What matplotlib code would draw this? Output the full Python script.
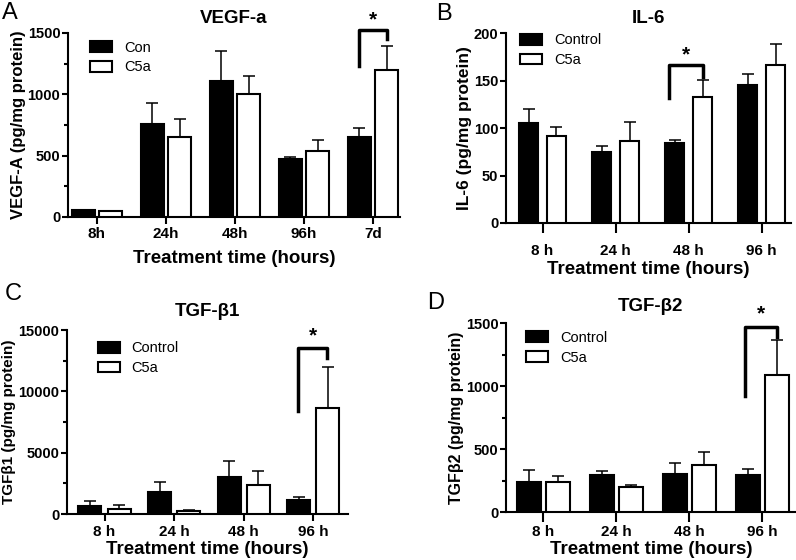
import numpy as np
import matplotlib
matplotlib.use("Agg")
import matplotlib.pyplot as plt

plt.rcParams['font.family'] = ['Liberation Sans', 'DejaVu Sans']
plt.rcParams['axes.linewidth'] = 1.5

# ---- data ----
# A: VEGF-a
vegf_times = ['8h', '24h', '48h', '96h', '7d']
vegf_con = [55, 762, 1112, 472, 655]
vegf_con_err = [5, 170, 238, 19, 73]
vegf_c5a = [45, 655, 1000, 537, 1195]
vegf_c5a_err = [2, 142, 152, 92, 198]

# B: IL-6
il6_times = ['8 h', '24 h', '48 h', '96 h']
il6_con = [105.6, 74.3, 83.8, 145]
il6_con_err = [14.4, 6.7, 3.9, 12]
il6_c5a = [91.5, 86, 132.4, 166.5]
il6_c5a_err = [9.9, 20.7, 18.3, 22.2]

# C: TGF-b1
tgfb1_times = ['8 h', '24 h', '48 h', '96 h']
tgfb1_con = [624, 1763, 3011, 1166]
tgfb1_con_err = [406, 841, 1275, 217]
tgfb1_c5a = [434, 217, 2387, 8680]
tgfb1_c5a_err = [298, 81, 1085, 3309]

# D: TGF-b2
tgfb2_times = ['8 h', '24 h', '48 h', '96 h']
tgfb2_con = [242, 295, 300, 290]
tgfb2_con_err = [88, 32, 88, 53]
tgfb2_c5a = [237, 198, 374, 1086]
tgfb2_c5a_err = [50, 18, 100, 282]


def panel(ax, times, con, con_err, c5a, c5a_err, labels, width, off, xlim,
          ylim, yticks, minor, title, ylabel, sig, leg_anchor,
          xtlen, xtpad, xlpad, tpad, ylsize):
    x = np.arange(len(times))
    ax.bar(x - off, con, width, color='black', edgecolor='black', lw=1.5,
           label=labels[0], zorder=3)
    ax.bar(x + off, c5a, width, color='white', edgecolor='black', lw=1.5,
           label=labels[1], zorder=3)
    ax.errorbar(x - off, con, yerr=[np.zeros(len(con)), con_err], fmt='none',
                ecolor='black', elinewidth=1.1, capsize=4, capthick=1.1, zorder=2)
    ax.errorbar(x + off, c5a, yerr=[np.zeros(len(c5a)), c5a_err], fmt='none',
                ecolor='black', elinewidth=1.1, capsize=4, capthick=1.1, zorder=2)
    ax.set_xlim(*xlim)
    ax.set_ylim(*ylim)
    ax.set_xticks(x)
    ax.set_xticklabels(times, fontweight='bold', fontsize=11)
    ax.set_yticks(yticks)
    ax.set_yticks(minor, minor=True)
    ax.set_yticklabels([str(t) for t in yticks], fontweight='bold', fontsize=10.5)
    ax.tick_params(axis='x', which='major', length=xtlen, width=1.5, pad=xtpad)
    ax.tick_params(axis='y', which='major', length=4, width=1.5, pad=1.5)
    ax.tick_params(axis='y', which='minor', length=3, width=1.5)
    ax.spines['top'].set_visible(False)
    ax.spines['right'].set_visible(False)
    ax.set_title(title, fontweight='bold', fontsize=13.5, pad=tpad)
    ax.set_ylabel(ylabel, fontweight='bold', fontsize=ylsize, labelpad=1.5)
    ax.set_xlabel('Treatment time (hours)', fontweight='bold', fontsize=13.5,
                  labelpad=xlpad)
    # significance bracket
    gi, lx, rx, top, lbot, rbot, star_y = sig
    ax.plot([gi + lx, gi + lx, gi + rx, gi + rx], [lbot, top, top, rbot],
            color='black', lw=2.5, clip_on=False, zorder=4)
    ax.text(gi + (lx + rx) / 2, star_y, '*', ha='center', va='center',
            fontsize=15, fontweight='bold', clip_on=False)
    ax.legend(loc='upper left', bbox_to_anchor=leg_anchor, frameon=False,
              fontsize=10.5, handlelength=1.5, handleheight=0.75,
              labelspacing=0.4, handletextpad=0.8, borderaxespad=0)


fig = plt.figure(figsize=(7.96, 5.6), dpi=100)

axA = fig.add_axes([0.0854, 0.6125, 0.417, 0.3286])
panel(axA, vegf_times, vegf_con, vegf_con_err, vegf_c5a, vegf_c5a_err,
      ['Con', 'C5a'], 0.33, 0.2, (-0.42, 4.39), (0, 1500),
      [0, 500, 1000, 1500], [250, 750, 1250], 'VEGF-a',
      'VEGF-A (pg/mg protein)', (4, -0.2, 0.21, 1522, 1227, 1450, 1610),
      (0.05, 0.99), 5, 2, 7, 7, 12)

axB = fig.add_axes([0.6357, 0.6018, 0.358, 0.339])
panel(axB, il6_times, il6_con, il6_con_err, il6_c5a, il6_c5a_err,
      ['Control', 'C5a'], 0.26, 0.19, (-0.5, 3.4), (0, 200),
      [0, 50, 100, 150, 200], [], 'IL-6',
      'IL-6 (pg/mg protein)', (2, -0.27, 0.2, 166, 132, 154, 177),
      (0.03, 1.03), 7, 8, 2, 7, 12.5)

axC = fig.add_axes([0.0842, 0.0821, 0.353, 0.3286])
panel(axC, tgfb1_times, tgfb1_con, tgfb1_con_err, tgfb1_c5a, tgfb1_c5a_err,
      ['Control', 'C5a'], 0.33, 0.21, (-0.54, 3.5), (0, 15000),
      [0, 5000, 10000, 15000], [2500, 7500, 12500], 'TGF-\u03b21',
      'TGF\u03b21 (pg/mg protein)', (3, -0.22, 0.2, 13500, 8400, 12700, 14500),
      (0.09, 0.97), 5, 3, 1.5, 10, 11)

axD = fig.add_axes([0.6357, 0.0857, 0.364, 0.3375])
panel(axD, tgfb2_times, tgfb2_con, tgfb2_con_err, tgfb2_c5a, tgfb2_c5a_err,
      ['Control', 'C5a'], 0.33, 0.2, (-0.51, 3.46), (0, 1500),
      [0, 500, 1000, 1500], [250, 750, 1250], 'TGF-\u03b22',
      'TGF\u03b22 (pg/mg protein)', (3, -0.23, 0.2, 1468, 920, 1390, 1570),
      (0.05, 0.99), 7, 2, 1.5, 9, 11.5)

# panel letters
fig.text(0.002, 0.997, 'A', fontsize=17, va='top', ha='left')
fig.text(0.548, 0.995, 'B', fontsize=17, va='top', ha='left')
fig.text(0.006, 0.494, 'C', fontsize=17, va='top', ha='left')
fig.text(0.537, 0.479, 'D', fontsize=17, va='top', ha='left')

fig.savefig('out.png', dpi=100)
